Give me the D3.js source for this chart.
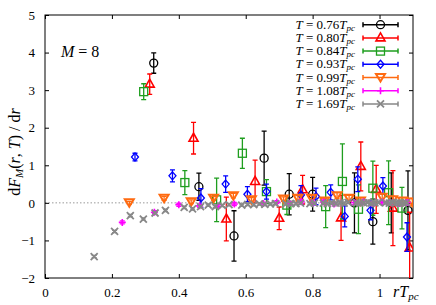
<!DOCTYPE html>
<html>
<head>
  <meta charset="utf-8">
  <title>dF/dr</title>
  <style>
    body { margin: 0; background: white; }
    text { font-family: "Liberation Serif", "DejaVu Serif", serif; fill: black; }
    .tick-label { font-size: 13px; }
  </style>
</head>
<body>
  <div id="chart"></div>
  <script src="https://d3js.org/d3.v7.min.js"></script>
  <script>
    const width = 436, height = 305;
    const margin = { left: 45, right: 23, top: 15, bottom: 27 };

    const xTicks = [0, 0.2, 0.4, 0.6, 0.8, 1];
    const yTicks = [-2, -1, 0, 1, 2, 3, 4, 5];
    const tLabels = ["0.76", "0.80", "0.84", "0.93", "0.99", "1.08", "1.69"];

    // T = 0.76 Tpc
    const x76 = [0.325, 0.46, 0.565, 0.655, 0.73, 0.80, 0.925, 0.98, 1.035, 1.085];
    const y76 = [3.72, 0.43, -0.88, 1.19, 0.23, 0.23, 0.0, -0.5, 0.0, -0.2];
    const e76 = [0.27, 0.36, 0.67, 0.72, 0.55, 0.45, 0.8, 0.6, 0.8, 1.05];
    // T = 0.80 Tpc
    const x80 = [0.313, 0.444, 0.542, 0.628, 0.70, 0.77, 0.885, 0.944, 0.99, 1.04, 1.09];
    const y80 = [3.16, 1.72, -0.43, 0.57, -0.41, 0.35, -0.40, 0.97, 0.36, -0.14, -1.2];
    const e80 = [0.27, 0.42, 0.58, 0.57, 0.3, 0.38, 0.6, 0.65, 0.64, 1.0, 0.95];
    // T = 0.84 Tpc
    const x84 = [0.295, 0.418, 0.513, 0.59, 0.662, 0.723, 0.839, 0.889, 0.937, 0.98, 1.027, 1.067];
    const y84 = [2.96, 0.54, 0.08, 1.32, 0.3, -0.06, -0.1, 0.57, -0.17, 0.39, 0.27, -0.14];
    const e84 = [0.21, 0.32, 0.58, 0.4, 0.32, 0.25, 0.56, 1.0, 0.65, 0.72, 0.85, 0.55];
    // T = 0.93 Tpc
    const x93 = [0.269, 0.381, 0.466, 0.54, 0.605, 0.662, 0.765, 0.81, 0.854, 0.896, 0.935, 0.973, 1.01, 1.082];
    const y93 = [1.22, 0.72, 0.13, 0.5, 0.23, 0.3, 0.21, 0.17, 0.28, -0.36, 0.63, -0.2, 0.45, -0.91];
    const e93 = [0.1, 0.16, 0.25, 0.22, 0.2, 0.2, 0.25, 0.22, 0.2, 0.28, 0.33, 0.25, 0.22, 0.38];
    // T = 0.99 Tpc
    const x99 = [0.252, 0.356, 0.437, 0.504, 0.563, 0.617, 0.713, 0.756, 0.797, 0.836, 0.873, 0.909, 0.943, 1.008, 1.039, 1.069, 1.098];
    const y99 = [0.0, 0.12, 0.03, 0.12, 0.19, 0.08, 0.10, 0.12, 0.12, 0.05, 0.19, 0.12, 0.05, 0.15, 0.08, 0.05, 0.02];
    const e99 = [0.04, 0.05, 0.05, 0.05, 0.06, 0.06, 0.06, 0.07, 0.07, 0.07, 0.08, 0.08, 0.08, 0.09, 0.09, 0.09, 0.1];
    // T = 1.08 Tpc
    const x108 = [0.231, 0.327, 0.400, 0.462, 0.517, 0.566, 0.653, 0.693, 0.730, 0.766, 0.800, 0.833, 0.864, 0.924, 0.952, 0.980, 1.007, 1.033, 1.059, 1.083];
    const y108 = [-0.52, -0.25, -0.05, -0.08, -0.09, -0.03, -0.02, 0.02, -0.01, 0.03, 0.0, 0.02, -0.03, 0.01, 0.03, -0.02, 0.02, 0.0, -0.02, 0.01];
    const e108 = [0.04, 0.04, 0.04, 0.04, 0.04, 0.04, 0.04, 0.04, 0.05, 0.05, 0.05, 0.05, 0.05, 0.05, 0.05, 0.05, 0.06, 0.06, 0.06, 0.06];
    // T = 1.69 Tpc
    const x169 = [0.147, 0.208, 0.255, 0.294, 0.329, 0.360, 0.416, 0.441, 0.465, 0.488, 0.509, 0.530, 0.550,
                  0.588, 0.606, 0.624, 0.641, 0.657, 0.674, 0.689, 0.720, 0.735, 0.750, 0.764, 0.792, 0.805,
                  0.832, 0.844, 0.857, 0.870, 0.882, 0.894, 0.906, 0.930, 0.941, 0.953, 0.964, 0.975, 0.986,
                  0.997, 1.018, 1.029, 1.039, 1.050, 1.060, 1.070, 1.080];
    const y169 = [-1.43, -0.76, -0.34, -0.43, -0.27, -0.20, -0.12, -0.16, -0.10, -0.06, -0.10, -0.07, -0.05,
                  -0.06, -0.04, -0.05, -0.03, -0.04, -0.03, -0.02, -0.03, -0.02, -0.02, -0.01, -0.02, -0.01,
                  -0.01, -0.02, 0.0, -0.01, 0.0, -0.01, 0.01, 0.0, -0.01, 0.0, 0.01, -0.01, 0.0,
                  0.01, 0.0, -0.01, 0.01, 0.0, 0.0, -0.01, 0.0];
    const e169 = x169.map(() => 0.03);

    const series = [
      { label: tLabels[0], xs: x76, ys: y76, es: e76, color: "#000000", symbol: "circle" },
      { label: tLabels[1], xs: x80, ys: y80, es: e80, color: "#ff0000", symbol: "triangleUp" },
      { label: tLabels[2], xs: x84, ys: y84, es: e84, color: "#1f9e1f", symbol: "square" },
      { label: tLabels[3], xs: x93, ys: y93, es: e93, color: "#0000ff", symbol: "diamond" },
      { label: tLabels[4], xs: x99, ys: y99, es: e99, color: "#ff6a10", symbol: "triangleDown" },
      { label: tLabels[5], xs: x108, ys: y108, es: e108, color: "#ff00ff", symbol: "plus" },
      { label: tLabels[6], xs: x169, ys: y169, es: e169, color: "#888888", symbol: "cross" }
    ];

    const svg = d3.select("#chart").append("svg")
      .attr("width", width).attr("height", height);

    const xScale = d3.scaleLinear().domain([0, 1.1]).range([margin.left, width - margin.right]);
    const yScale = d3.scaleLinear().domain([-2, 5]).range([height - margin.bottom, margin.top]);

    svg.append("defs").append("clipPath").attr("id", "clip")
      .append("rect")
      .attr("x", margin.left).attr("y", margin.top)
      .attr("width", width - margin.left - margin.right)
      .attr("height", height - margin.top - margin.bottom);

    // zero line
    svg.append("line")
      .attr("x1", xScale(0)).attr("x2", xScale(1.1))
      .attr("y1", yScale(0)).attr("y2", yScale(0))
      .attr("stroke", "#999").attr("stroke-width", 1)
      .attr("stroke-dasharray", "1.5,2");

    // axes, ticks pointing inward, mirrored on top and right
    const tickLen = 4;
    const plain = g => g.attr("font-family", null).attr("font-size", null);
    svg.append("g").attr("transform", `translate(0,${height - margin.bottom})`)
      .call(d3.axisBottom(xScale).tickValues(xTicks).tickSizeInner(-tickLen).tickSizeOuter(0).tickPadding(10).tickFormat(d3.format("")))
      .call(plain);
    svg.append("g").attr("transform", `translate(0,${margin.top})`)
      .call(d3.axisTop(xScale).tickValues(xTicks).tickSizeInner(-tickLen).tickSizeOuter(0).tickFormat(""));
    svg.append("g").attr("transform", `translate(${margin.left},0)`)
      .call(d3.axisLeft(yScale).tickValues(yTicks).tickSizeInner(-tickLen).tickSizeOuter(0).tickPadding(10).tickFormat(d3.format("d")))
      .call(plain);
    svg.append("g").attr("transform", `translate(${width - margin.right},0)`)
      .call(d3.axisRight(yScale).tickValues(yTicks).tickSizeInner(-tickLen).tickSizeOuter(0).tickFormat(""));
    svg.selectAll(".domain").remove();
    svg.selectAll(".tick line").attr("stroke", "#000");
    svg.selectAll(".tick text").attr("class", "tick-label");

    svg.append("rect")
      .attr("x", margin.left).attr("y", margin.top)
      .attr("width", width - margin.left - margin.right)
      .attr("height", height - margin.top - margin.bottom)
      .attr("fill", "none").attr("stroke", "#000").attr("stroke-width", 1);

    function drawSymbol(g, type, cx, cy, color) {
      const sw = 1.3;
      if (type === "circle") {
        g.append("circle").attr("cx", cx).attr("cy", cy).attr("r", 4)
          .attr("fill", "none").attr("stroke", color).attr("stroke-width", sw);
      } else if (type === "square") {
        g.append("rect").attr("x", cx - 4).attr("y", cy - 4).attr("width", 8).attr("height", 8)
          .attr("fill", "none").attr("stroke", color).attr("stroke-width", sw);
      } else if (type === "triangleUp") {
        g.append("path").attr("d", `M${cx},${cy - 5}L${cx + 4.5},${cy + 3}L${cx - 4.5},${cy + 3}Z`)
          .attr("fill", "none").attr("stroke", color).attr("stroke-width", 1.6);
      } else if (type === "triangleDown") {
        g.append("path").attr("d", `M${cx},${cy + 4}L${cx + 4.5},${cy - 3.5}L${cx - 4.5},${cy - 3.5}Z`)
          .attr("fill", "none").attr("stroke", color).attr("stroke-width", 2);
      } else if (type === "diamond") {
        g.append("path").attr("d", `M${cx},${cy - 4}L${cx + 3.5},${cy}L${cx},${cy + 4}L${cx - 3.5},${cy}Z`)
          .attr("fill", "none").attr("stroke", color).attr("stroke-width", sw);
      } else if (type === "plus") {
        g.append("path").attr("d", `M${cx - 3.5},${cy}H${cx + 3.5}M${cx},${cy - 3.5}V${cy + 3.5}`)
          .attr("stroke", color).attr("stroke-width", 1.6);
      } else if (type === "cross") {
        g.append("path").attr("d", `M${cx - 3.5},${cy - 3.5}L${cx + 3.5},${cy + 3.5}M${cx - 3.5},${cy + 3.5}L${cx + 3.5},${cy - 3.5}`)
          .attr("stroke", color).attr("stroke-width", 1.8);
      }
    }

    const plot = svg.append("g").attr("clip-path", "url(#clip)");
    series.forEach(s => {
      const g = plot.append("g");
      s.xs.forEach((x, i) => {
        const px = xScale(x);
        const y0 = yScale(s.ys[i] - s.es[i]);
        const y1 = yScale(s.ys[i] + s.es[i]);
        g.append("path")
          .attr("d", `M${px},${y0}V${y1}M${px - 2.5},${y0}H${px + 2.5}M${px - 2.5},${y1}H${px + 2.5}`)
          .attr("stroke", s.color).attr("stroke-width", 1.3).attr("fill", "none");
        drawSymbol(g, s.symbol, px, yScale(s.ys[i]), s.color);
      });
    });

    // legend
    const legX = 355, legY = 24.7, legStep = 13.2;
    series.forEach((s, i) => {
      const y = legY + i * legStep;
      const t = svg.append("text").attr("x", legX).attr("y", y + 4)
        .attr("text-anchor", "end").attr("font-size", 13);
      t.append("tspan").attr("font-style", "italic").text("T");
      t.append("tspan").text(" = " + s.label);
      t.append("tspan").attr("font-style", "italic").text("T");
      t.append("tspan").attr("font-style", "italic").attr("font-size", 9).attr("dy", 2).text("pc");
      svg.append("path")
        .attr("d", `M363,${y}H398M363,${y - 2.5}V${y + 2.5}M398,${y - 2.5}V${y + 2.5}`)
        .attr("stroke", s.color).attr("stroke-width", 1.5);
      drawSymbol(svg, s.symbol, 380.5, y, s.color);
    });

    // M = 8
    const mt = svg.append("text").attr("x", 61).attr("y", 57).attr("font-size", 16);
    mt.append("tspan").attr("font-style", "italic").text("M");
    mt.append("tspan").text(" = 8");

    // x label
    const xl = svg.append("text").attr("x", 393).attr("y", 297).attr("font-size", 16);
    xl.append("tspan").attr("font-style", "italic").text("rT");
    xl.append("tspan").attr("font-style", "italic").attr("font-size", 11).attr("dy", 3).text("pc");

    // y label
    const yl = svg.append("text")
      .attr("transform", "translate(20,152) rotate(-90)")
      .attr("text-anchor", "middle").attr("font-size", 16);
    yl.append("tspan").text("d");
    yl.append("tspan").attr("font-style", "italic").text("F");
    yl.append("tspan").attr("font-style", "italic").attr("font-size", 11).attr("dy", 3).text("M");
    yl.append("tspan").attr("dy", -3).text("(");
    yl.append("tspan").attr("font-style", "italic").text("r");
    yl.append("tspan").text(", ");
    yl.append("tspan").attr("font-style", "italic").text("T");
    yl.append("tspan").text(") / d");
    yl.append("tspan").attr("font-style", "italic").text("r");
  </script>
</body>
</html>
